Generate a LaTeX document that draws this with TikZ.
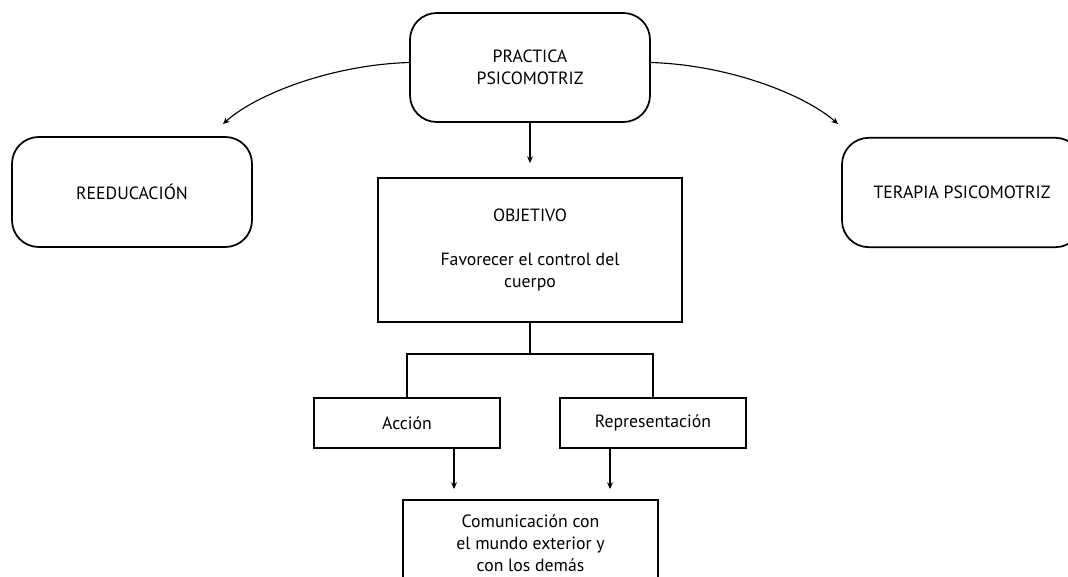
\documentclass[tikz,border=0pt]{standalone}
\usepackage{fontspec}
\setmainfont{PT Sans}
\usetikzlibrary{arrows.meta}
\tikzset{
  caja/.style={draw,line width=1.3pt,align=center,inner sep=0pt,
    font=\fontsize{13.3}{16.5}\selectfont},
  cajar/.style={caja,rounded corners=20pt},
  flecha/.style={line width=0.85pt,-{Stealth[length=5pt,width=4.5pt]}},
  linea/.style={line width=0.85pt}
}
\begin{document}
\begin{tikzpicture}[x=0.75pt,y=-0.75pt]
    \useasboundingbox (0,0) rectangle (1068,577);
    \clip (0,0) rectangle (1068,577);
    \node[cajar,minimum width=180pt,minimum height=81.75pt] (psico) at (530,67.5) {PRACTICA\\PSICOMOTRIZ};
    \node[cajar,minimum width=180pt,minimum height=82.5pt] (reedu) at (132,192) {REEDUCACIÓN};
    \node[cajar,minimum width=180pt,minimum height=82pt] (terapia) at (962,192.5) {TERAPIA PSICOMOTRIZ};
    \node[caja,minimum width=228pt,minimum height=108pt] (obj) at (530,250) {OBJETIVO\\[17pt]Favorecer el control del\\cuerpo};
    \node[caja,minimum width=139.5pt,minimum height=37.5pt] (accion) at (407,423) {Acción};
    \node[caja,minimum width=139.5pt,minimum height=37.5pt] (repr) at (653,423) {Representación};
    \node[caja,minimum width=191.25pt,minimum height=64.5pt] (comu) at (530.5,543) {Comunicación con\\el mundo exterior y\\con los demás};
    % extremos libres
    \coordinate (fizq) at (223,124);
    \coordinate (fder) at (838,124);
    \coordinate (fobj) at (530,163);
    \coordinate (nudo) at (530,354);
    \coordinate (facc) at (454,489);
    \coordinate (frep) at (610,489);
    \draw[flecha] ([yshift=3.75pt]psico.west) .. controls (330,65) and (255,95) .. (fizq);
    \draw[flecha] ([yshift=3.75pt]psico.east) .. controls (730,65) and (805,95) .. (fder);
    \draw[flecha] (psico.south) -- (fobj);
    \draw[linea] (obj.south) -- (nudo) -| (accion.north);
    \draw[linea] (nudo) -| (repr.north);
    \draw[flecha] (accion.south -| facc) -- (facc);
    \draw[flecha] (repr.south -| frep) -- (frep);
\end{tikzpicture}
\end{document}
